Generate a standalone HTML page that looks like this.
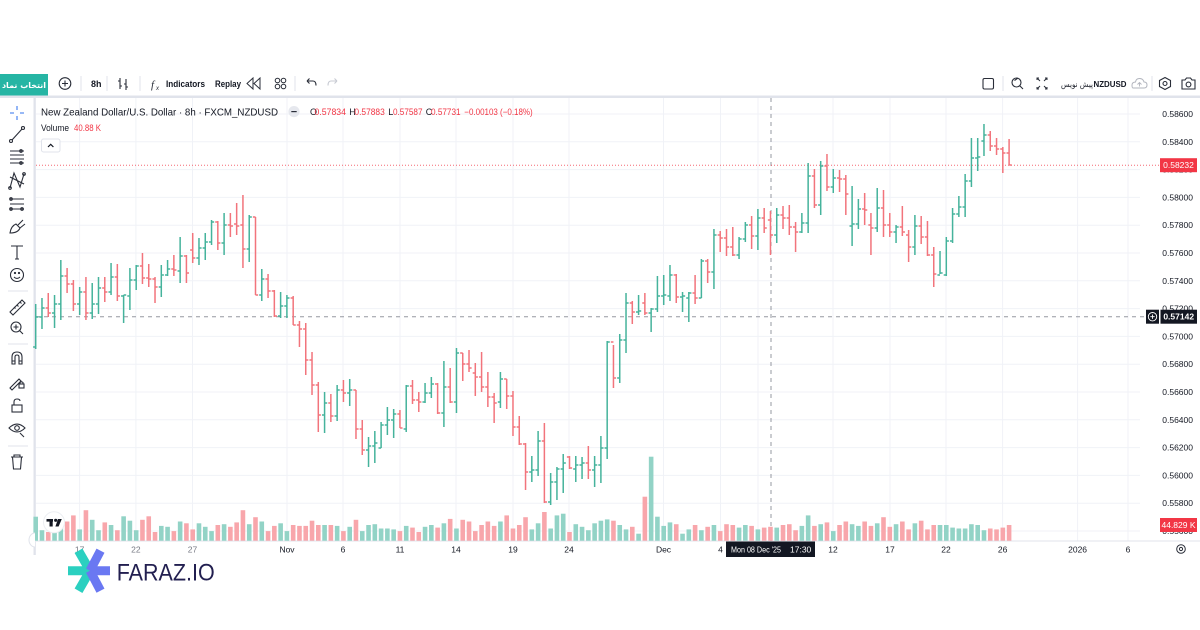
<!DOCTYPE html>
<html><head><meta charset="utf-8">
<style>
html,body{margin:0;padding:0;background:#fff;}
body{width:1200px;height:630px;overflow:hidden;}
svg{display:block;font-family:"Liberation Sans","DejaVu Sans",sans-serif;}
</style></head>
<body>
<svg id="c" width="1200" height="630" viewBox="0 0 1200 630" xmlns="http://www.w3.org/2000/svg">
<rect x="0" y="0" width="1200" height="630" fill="#fff"/>

<!-- ===== top toolbar ===== -->
<rect x="0" y="74" width="48" height="22" fill="#26b5a4"/>
<text x="24" y="88" fill="#fff" font-size="8" font-weight="bold" text-anchor="middle" font-family="DejaVu Sans, sans-serif">انتخاب نماد</text>
<circle cx="65" cy="83.5" r="5.8" fill="none" stroke="#2a2e39" stroke-width="1.1"/>
<path d="M62 83.5H68M65 80.5V86.5" stroke="#2a2e39" stroke-width="1.1"/>
<path d="M81 76V91M107 76V91M140 76V91M295 76V91" stroke="#e0e3eb" stroke-width="1"/>
<text x="91" y="87" font-size="9.5" font-weight="bold" fill="#131722" textLength="10.5" lengthAdjust="spacingAndGlyphs">8h</text>
<path d="M120 78V89M118 81H120M120 86H122M126 79V90M124 84H126M126 87H128" stroke="#2a2e39" stroke-width="1.1" fill="none"/>
<text x="151" y="88" font-size="11" font-style="italic" fill="#2a2e39" font-family="Liberation Serif, serif">f</text>
<text x="156" y="90" font-size="6" font-style="italic" fill="#2a2e39">x</text>
<text x="166" y="87" font-size="9.3" font-weight="bold" fill="#131722" textLength="39" lengthAdjust="spacingAndGlyphs">Indicators</text>
<text x="215" y="87" font-size="9.3" font-weight="bold" fill="#131722" textLength="26" lengthAdjust="spacingAndGlyphs">Replay</text>
<path d="M253 78L247 83.5L253 89ZM260 78L254 83.5L260 89Z" fill="none" stroke="#2a2e39" stroke-width="1"/>
<circle cx="277.5" cy="80.5" r="2.3" fill="none" stroke="#2a2e39" stroke-width="1"/>
<circle cx="283.5" cy="80.5" r="2.3" fill="none" stroke="#2a2e39" stroke-width="1"/>
<circle cx="277.5" cy="86.5" r="2.3" fill="none" stroke="#2a2e39" stroke-width="1"/>
<circle cx="283.5" cy="86.5" r="2.3" fill="none" stroke="#2a2e39" stroke-width="1"/>
<path d="M307 81H313Q316 81 316 85.5M307 81L309.5 78.5M307 81L309.5 83.5" stroke="#2a2e39" stroke-width="1.1" fill="none"/>
<path d="M337 81H331Q328 81 328 85.5M337 81L334.5 78.5M337 81L334.5 83.5" stroke="#c8cbd3" stroke-width="1.1" fill="none"/>

<!-- right side of toolbar -->
<rect x="983" y="78.5" width="10.5" height="10.5" rx="1.5" fill="none" stroke="#2a2e39" stroke-width="1.1"/>
<path d="M1003 76V91M1152 76V91" stroke="#e0e3eb" stroke-width="1"/>
<circle cx="1016.5" cy="82.5" r="4.5" fill="none" stroke="#2a2e39" stroke-width="1.1"/>
<path d="M1019.5 85.5L1023 89M1014.5 80.5L1018 78" stroke="#2a2e39" stroke-width="1.1"/>
<path d="M1037 80V78H1039M1045 78H1047V80M1037 87V89H1039M1045 89H1047V87M1037 78L1040 81M1047 78L1044 81M1037 89L1040 86M1047 89L1044 86" stroke="#2a2e39" stroke-width="1" fill="none"/>
<text x="1061" y="87" font-size="8" fill="#131722" textLength="32" lengthAdjust="spacingAndGlyphs" font-family="DejaVu Sans, sans-serif">پیش نویس</text>
<text x="1093.5" y="87" font-size="8.5" font-weight="bold" fill="#131722" textLength="33" lengthAdjust="spacingAndGlyphs">NZDUSD</text>
<path d="M1133 88H1144Q1147 88 1147 85Q1147 82 1144 82Q1143 78.5 1139.5 78.5Q1136 78.5 1135.5 82Q1132 82.3 1132 85Q1132 88 1133 88Z" fill="none" stroke="#b2b5be" stroke-width="1"/>
<path d="M1139.5 86.5V82.5M1137.5 84.5L1139.5 82.5L1141.5 84.5" stroke="#b2b5be" stroke-width="0.9" fill="none"/>
<path d="M1165 77.5L1170.5 80.5V86.5L1165 89.5L1159.5 86.5V80.5Z" fill="none" stroke="#2a2e39" stroke-width="1.1"/>
<circle cx="1165" cy="83.5" r="2" fill="none" stroke="#2a2e39" stroke-width="1.1"/>
<path d="M1182 80H1185L1186.5 78H1190.5L1192 80H1195V89H1182Z" fill="none" stroke="#2a2e39" stroke-width="1.1"/>
<circle cx="1188.5" cy="84.5" r="2.4" fill="none" stroke="#2a2e39" stroke-width="1.1"/>

<!-- frame borders -->
<rect x="0" y="95.5" width="1200" height="2.5" fill="#e0e3eb"/>
<rect x="33.5" y="98" width="2.3" height="457" fill="#e0e3eb"/>

<!-- ===== grid ===== -->
<g id="grid" stroke="#f0f2f7" stroke-width="1"></g>

<!-- time axis border -->
<path d="M36 541H1200" stroke="#e0e3eb" stroke-width="1"/>

<!-- crosshair lines -->
<path d="M771 98V541" stroke="#9598a1" stroke-width="1" stroke-dasharray="4 4"/>
<path d="M36 316.7H1146" stroke="#9598a1" stroke-width="1" stroke-dasharray="4 4"/>
<path d="M36 165.2H1160" stroke="#f23645" stroke-width="1" stroke-dasharray="1 2" opacity="0.75"/>

<!-- volume + bars -->
<g id="vol"></g>
<g id="bars" fill="none" stroke-width="1.5"></g>

<!-- TradingView logo -->
<circle cx="54" cy="522.3" r="10.5" fill="#fff" stroke="#eceef2" stroke-width="1"/>
<rect x="46.5" y="519" width="6.5" height="2.6" fill="#131722"/>
<rect x="49.5" y="519" width="3.2" height="7.5" fill="#131722"/>
<circle cx="55.7" cy="520.3" r="1.6" fill="#131722"/>
<path d="M58 519H61.8L58.6 526.5H55.4Z" fill="#131722"/>
<path d="M35 533A6 7 0 0 0 35 547" fill="#fff" stroke="#e0e3eb" stroke-width="1"/>

<!-- ===== header ===== -->
<text x="41" y="115.3" font-size="10.5" fill="#131722" textLength="237" lengthAdjust="spacingAndGlyphs">New Zealand Dollar/U.S. Dollar · 8h · FXCM_NZDUSD</text>
<circle cx="294" cy="111.6" r="5.6" fill="#e6e8ee"/>
<path d="M291.3 111.6H296.7" stroke="#2a2e39" stroke-width="1.2"/>
<g font-size="9">
<text x="310" y="114.8" fill="#131722">O</text>
<text x="314.5" y="114.8" fill="#f23645" textLength="31.5" lengthAdjust="spacingAndGlyphs">0.57834</text>
<text x="349.2" y="114.8" fill="#131722">H</text>
<text x="354.4" y="114.8" fill="#f23645" textLength="30.4" lengthAdjust="spacingAndGlyphs">0.57883</text>
<text x="388.3" y="114.8" fill="#131722">L</text>
<text x="393" y="114.8" fill="#f23645" textLength="29.5" lengthAdjust="spacingAndGlyphs">0.57587</text>
<text x="425.8" y="114.8" fill="#131722">C</text>
<text x="431" y="114.8" fill="#f23645" textLength="29.6" lengthAdjust="spacingAndGlyphs">0.57731</text>
<text x="464.3" y="114.8" fill="#f23645" textLength="68.4" lengthAdjust="spacingAndGlyphs">−0.00103 (−0.18%)</text>
<text x="41" y="130.8" fill="#131722" textLength="28" lengthAdjust="spacingAndGlyphs">Volume</text>
<text x="74" y="130.8" fill="#f23645" textLength="27" lengthAdjust="spacingAndGlyphs">40.88 K</text>
</g>
<rect x="41.5" y="139" width="18.5" height="13" rx="2" fill="#fff" stroke="#e0e3eb" stroke-width="1"/>
<path d="M48 147L50.7 144.3L53.4 147" stroke="#131722" stroke-width="1.2" fill="none"/>

<!-- ===== price axis ===== -->
<g id="px" font-size="8.5" fill="#131722" text-anchor="end"></g>
<rect x="1160" y="158.2" width="37" height="14" fill="#f23645"/>
<text x="1178.5" y="168.2" font-size="8.5" fill="#fff" text-anchor="middle">0.58232</text>
<rect x="1146" y="309.7" width="13" height="14" fill="#131722"/>
<circle cx="1152.5" cy="316.7" r="4.2" fill="none" stroke="#fff" stroke-width="0.9"/>
<path d="M1150.3 316.7H1154.7M1152.5 314.5V318.9" stroke="#fff" stroke-width="0.9"/>
<rect x="1160.5" y="309.7" width="36.5" height="14" fill="#131722"/>
<text x="1178.7" y="319.7" font-size="8.5" fill="#fff" font-weight="bold" text-anchor="middle">0.57142</text>
<rect x="1160" y="518" width="37" height="14" fill="#f23645"/>
<text x="1178.5" y="528" font-size="8.5" fill="#fff" text-anchor="middle">44.829 K</text>

<!-- ===== time axis ===== -->
<g font-size="8.5" fill="#131722" text-anchor="middle">
<text x="79.6" y="552.3" fill="#777a84">17</text>
<text x="135.9" y="552.3" fill="#777a84">22</text>
<text x="192.5" y="552.3" fill="#777a84">27</text>
<text x="287" y="552.3">Nov</text>
<text x="343" y="552.3">6</text>
<text x="400" y="552.3">11</text>
<text x="456" y="552.3">14</text>
<text x="513" y="552.3">19</text>
<text x="569" y="552.3">24</text>
<text x="663.5" y="552.3">Dec</text>
<text x="720.5" y="552.3">4</text>
<text x="833" y="552.3">12</text>
<text x="890" y="552.3">17</text>
<text x="946" y="552.3">22</text>
<text x="1002.6" y="552.3">26</text>
<text x="1077.6" y="552.3">2026</text>
<text x="1128" y="552.3">6</text>
</g>
<rect x="726" y="541.5" width="89" height="15.5" fill="#131722"/>
<text x="731" y="552.3" font-size="8.5" fill="#fff" textLength="50" lengthAdjust="spacingAndGlyphs">Mon 08 Dec '25</text>
<text x="790" y="552.3" font-size="8.5" fill="#fff">17:30</text>
<circle cx="1181" cy="549" r="4.3" fill="none" stroke="#2a2e39" stroke-width="1"/>
<circle cx="1181" cy="549" r="1.6" fill="none" stroke="#2a2e39" stroke-width="1"/>

<!-- ===== left toolbar icons ===== -->
<g stroke="#2a2e39" stroke-width="1.1" fill="none">
<path d="M17 106V110M17 116V120M10 113H14M20 113H24" stroke="#5b8ff0" stroke-width="1.3"/>
<path d="M12 140L22 129"/><circle cx="11" cy="141" r="1.5"/><circle cx="23" cy="128" r="1.5"/>
<path d="M10 151H24M10 155H24M10 159H24M10 163H24"/><circle cx="21" cy="151" r="1.3"/><circle cx="21" cy="163" r="1.3"/>
<path d="M10 188L14 173L20 187L24 174M10 177L24 184"/><circle cx="10" cy="188" r="1.3"/><circle cx="24" cy="174" r="1.3"/>
<path d="M10 199H24M10 204H24M10 209H24"/><circle cx="11" cy="199" r="1.3"/><circle cx="11" cy="209" r="1.3"/><circle cx="22" cy="209" r="1.3"/>
<path d="M10 233Q11 226 16 224L20 228Q18 233 10 233ZM18 225L23 220M20 228L25 224"/>
<path d="M11 246H23M17 246V259M15 259H19"/>
<circle cx="17" cy="275" r="6.5"/><path d="M14 277Q17 280 20 277"/><circle cx="15" cy="273" r="0.6" fill="#2a2e39"/><circle cx="19" cy="273" r="0.6" fill="#2a2e39"/>
<path d="M10 312L22 300L25 303L13 315Z M14 307L15.5 308.5M17 305L18.5 306.5M20 302L21.5 303.5"/>
<circle cx="16" cy="327" r="5"/><path d="M13.5 327H18.5M16 324.5V329.5M19.5 330.5L23 334"/>
<path d="M12 364V357Q12 352 17 352Q22 352 22 357V364H19V357Q19 355 17 355Q15 355 15 357V364Z M12 361H15M19 361H22"/>
<path d="M10 388L19 379L21 381L12 390Z"/><rect x="19" y="384" width="5" height="4"/><path d="M20 384V382.5Q21.5 381 23 382.5V384"/>
<rect x="12" y="405" width="10" height="7"/><path d="M14 405V402Q14 399 17 399Q20 399 20 401"/>
<path d="M9 428Q17 420 25 428Q17 436 9 428Z"/><circle cx="17" cy="428" r="2.3"/><path d="M20 433L24 437"/>
<path d="M11 457H23M14 457V455H20V457M12.5 457L13.5 469H20.5L21.5 457"/>
</g>
<path d="M8 291H28M8 344H28M8 446H28" stroke="#e0e3eb" stroke-width="1"/>

<!-- ===== FARAZ.IO logo ===== -->
<g stroke-width="9" stroke-linecap="butt">
<path d="M90 570.7H68M90 570.7L78.5 550.7M90 570.7L78.5 590.7" stroke="#2bd0c0"/>
<path d="M90 570.7H110M90 570.7L100.5 550.7M90 570.7L100.5 590.7" stroke="#6a78f2"/>
</g>
<text x="116.7" y="580.7" font-size="24" fill="#221f50" textLength="98" lengthAdjust="spacingAndGlyphs">FARAZ.IO</text>
</svg>

<script>
(function(){
var NS="http://www.w3.org/2000/svg";
function el(t,a,p){var e=document.createElementNS(NS,t);for(var k in a)e.setAttribute(k,a[k]);p.appendChild(e);return e;}
// grid
var g=document.getElementById("grid");
var gx=[79.6,135.9,192.5,287,343,400,456,513,569,663.5,720.5,758,833,890,946,1002.6,1077.6,1128];
gx.forEach(function(x){el("path",{d:"M"+x+" 98V541"},g);});
var px=document.getElementById("px");
var labs=["0.58600","0.58400","0.58200","0.58000","0.57800","0.57600","0.57400","0.57200","0.57000","0.56800","0.56600","0.56400","0.56200","0.56000","0.55800","0.55600"];
for(var k=0;k<16;k++){var y=114+k*27.8;el("path",{d:"M36 "+y.toFixed(1)+"H1140"},g);
 var t=el("text",{x:1193,y:(y+3).toFixed(1)},px);t.textContent=labs[k];}
// bars H L O C
var B=[[304,349,347,317],[298,329,317,308],[293,317,308,313],[295,328,313,304],[260,320,304,276],[268,293,276,284],[280,311,284,304],[287,315,304,292],[277,320,292,313],[283,319,313,304],
[277,314,304,288],[277,302,288,292],[263,295,292,277],[264,301,277,296],[295,323,296,295],[268,310,296,280],[265,290,280,266],[253,284,266,278],[264,287,278,279],[277,303,279,287],
[265,297,287,275],[260,276,275,269],[255,276,269,270],[237,283,271,256],[255,283,256,273],[233,263,250,258],[238,265,258,248],[233,260,248,242],[220,245,242,222],[221,250,222,243],
[213,255,243,225],[213,237,225,226],[203,235,224,226],[195,268,225,249],[215,262,249,217],[217,295,217,295],[269,301,295,279],[274,298,279,291],[290,317,291,316],[292,318,316,306],
[295,318,306,298],[296,325,298,325],[321,347,325,329],[323,375,329,360],[352,395,360,385],[382,432,385,415],[392,433,415,403],[394,422,403,416],[385,421,416,390],[380,402,390,393],
[379,406,393,390],[390,439,390,429],[420,455,429,450],[437,467,450,446],[431,463,446,443],[422,448,448,425],[407,435,425,420],[409,438,420,414],[410,428,414,428],[385,432,429,386],
[380,404,386,400],[392,412,400,402],[383,403,402,393],[377,398,393,384],[383,414,384,413],[361,427,413,387],[368,403,387,402],[348,413,402,353],[353,381,353,364],[350,372,364,368],
[363,396,373,377],[352,392,377,387],[372,407,387,397],[393,423,397,403],[372,408,402,379],[379,409,379,396],[391,436,396,427],[416,445,427,444],[443,490,444,472],[456,482,472,470],
[431,476,470,441],[423,503,441,502],[473,505,502,482],[467,500,482,469],[454,493,469,463],[456,469,457,468],[456,482,469,465],[457,479,465,463],[446,479,463,470],[456,487,470,465],
[436,483,465,448],[341,459,448,342],[345,388,342,378],[334,383,378,340],[293,353,340,303],[301,324,303,312],[295,315,312,311],[293,315,303,313],[308,332,313,309],[276,312,309,296],
[275,305,296,295],[265,301,296,275],[274,303,275,297],[292,312,297,296],[292,322,298,293],[275,304,293,298],[259,298,298,261],[259,283,261,272],[229,289,272,235],[231,252,235,238],
[229,256,238,247],[227,256,247,255],[237,259,255,239],[222,242,239,225],[216,249,225,236],[209,250,236,218],[208,233,218,228],[211,255,220,235],[208,243,235,215],[206,229,215,218],
[205,235,218,227],[222,252,227,232],[213,233,232,223],[163,233,223,176],[169,208,176,205],[161,215,205,166],[154,191,166,187],[169,193,187,178],[170,192,178,179],[175,215,179,194],
[186,246,226,224],[199,229,224,209],[193,225,209,210],[213,255,225,228],[188,232,228,208],[190,237,208,225],[213,237,225,232],[225,243,232,227],[206,236,227,232],[230,262,235,247],
[215,255,247,226],[216,244,226,237],[221,256,237,255],[247,287,255,274],[251,274,275,273],[237,276,275,241],[208,243,241,214],[196,217,214,207],[174,217,207,181],[138,187,181,158],
[138,171,158,157],[124,156,141,135],[131,151,135,146],[138,155,146,149],[147,173,149,153],[139,165,153,165]];
var V="T27.5,T12,R10,T9,T15,R22,R29,T13,R35,T24,T12,R21,T18,R12,T28,T23,T12,R24,R28,R10,T17,T16,R11,T22,R20,R13,T20,T16,T11,R18,T19,R16,R21,R35,T19,R27,T22,R11,R17,T20,T11,R18,R17,R17,R23,R18,T18,R18,T17,R11,T16,R24,T11,T18,T19,T14,T14,T13,R11,T17,R15,R10,T16,T18,R15,T20,R25,T14,R24,R22,R11,R18,R22,R17,T22,R29,R14,R18,R27,T13,T20,R33,T14,T29,T31,R10,T19,T16,T12,T20,T23,T24.5,R23,T18,T13,R16,T8,R50,T90,T27.5,T17,T21,R19,T8,T13,R18,T12,R16,T18,R11,R19,R18,T15,T18,R17,T13,R15,R16,T15,R18,R19,R12,T17,T29,R17,T19,R21,T11,R18,R22,T19,T17,R22,R17,T20,R27,R16,T19,R22,R13,T20,R23,R13,R18,T18,T18,T15,T14,T14,T19,T18,T12,R14,R13,R15,R18".split(",");
var bg=document.getElementById("bars"),vg=document.getElementById("vol");
var du="",dd="";
for(var i=0;i<B.length;i++){
 var x=35.7+i*6.28,b=B[i];
 var seg="M"+x.toFixed(2)+" "+b[0]+"V"+b[1]+"M"+(x-2.6).toFixed(2)+" "+b[2]+"H"+x.toFixed(2)+"M"+x.toFixed(2)+" "+b[3]+"H"+(x+2.6).toFixed(2);
 if(b[3]<=b[2])du+=seg;else dd+=seg;
}
el("path",{d:du,stroke:"#45b39c"},bg);
el("path",{d:dd,stroke:"#f2747c"},bg);
var base=540.7;
for(var j=0;j<V.length;j++){
 var xx=35.7+j*6.28,h=parseFloat(V[j].slice(1))*0.871,c=V[j][0]=="T"?"#92d3c6":"#f8a6ab";
 if(j==97)h=44; if(j==98)h=84;
 el("rect",{x:(xx-2.3).toFixed(2),y:(base-h).toFixed(1),width:4.6,height:h.toFixed(1),fill:c},vg);
}
})();
</script>
</body></html>
